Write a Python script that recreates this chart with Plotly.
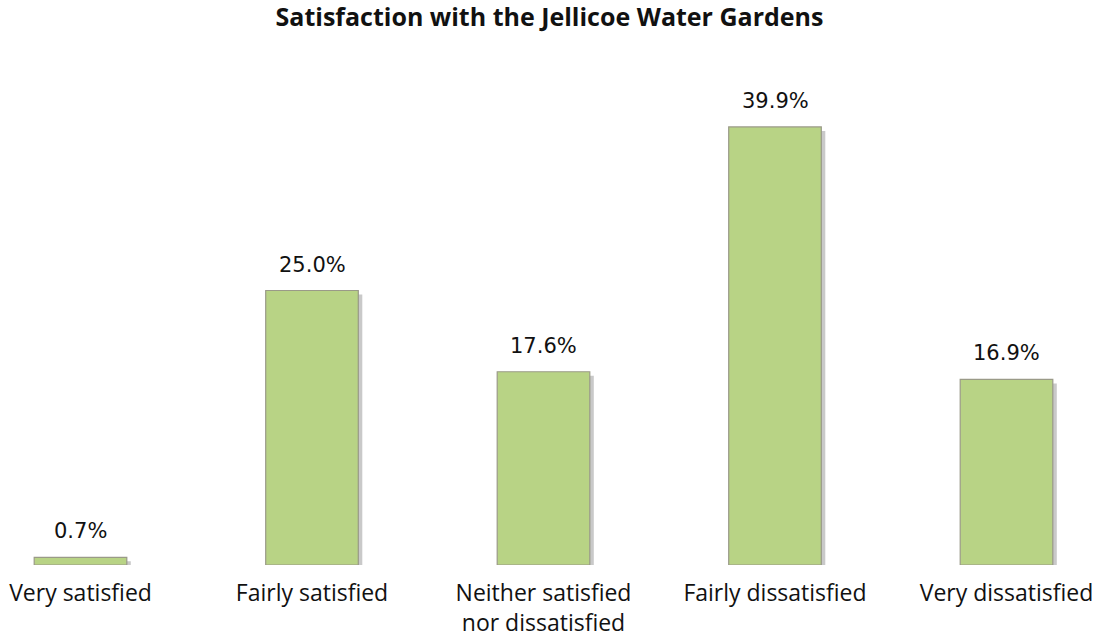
import plotly.graph_objects as go

categories = ["Very satisfied", "Fairly satisfied", "Neither satisfied<br>nor dissatisfied",
              "Fairly dissatisfied", "Very dissatisfied"]
values = [0.7, 25.0, 17.6, 39.9, 16.9]
labels = ["0.7%", "25.0%", "17.6%", "39.9%", "16.9%"]
title = "Satisfaction with the Jellicoe Water Gardens"

W, H = 1099, 638
mt, mb = 60, 73
plot_h = H - mt - mb
px_per_unit = 10.98
ymax = plot_h / px_per_unit
px_per_cat = 231.5
x0 = -80.5 / px_per_cat
x1 = x0 + W / px_per_cat
sx = 4 / px_per_cat
sy = 4 / px_per_unit
bw = 0.4

idx = list(range(len(categories)))

fig = go.Figure()
# shadow (drawn on primary axes, underneath)
fig.add_trace(go.Bar(x=idx, y=values, xaxis="x", yaxis="y", width=bw, offset=-bw / 2 + sx,
                     marker=dict(color="#c9c9c9", line=dict(width=0)),
                     hoverinfo="skip", showlegend=False))
# main bars (overlay axes, on top)
fig.add_trace(go.Bar(x=idx, y=values, xaxis="x2", yaxis="y2", width=bw,
                     marker=dict(color="#b8d385", line=dict(color="#9a9a88", width=1.2)),
                     showlegend=False))
for i, v, t in zip(idx, values, labels):
    fig.add_annotation(x=i, y=v, xref="x2", yref="y2", text=t, showarrow=False,
                       yanchor="bottom", yshift=12,
                       font=dict(family="DejaVu Sans", size=21, color="#111111"))

fig.update_layout(
    width=W, height=H,
    margin=dict(l=0, r=0, t=mt, b=mb, autoexpand=False),
    paper_bgcolor="white", plot_bgcolor="white",
    title=dict(text="<b>" + title + "</b>", x=0.5, xanchor="center", y=1 - 17 / H, yanchor="middle",
               font=dict(family="Open Sans", size=25, color="#111111"), automargin=False),
    xaxis=dict(range=[x0, x1], tickvals=idx, ticktext=categories, showgrid=False, zeroline=False,
               showline=False, ticks="", ticklabelstandoff=12, automargin=False,
               tickfont=dict(family="Open Sans", size=23, color="#111111")),
    xaxis2=dict(range=[x0, x1], overlaying="x", visible=False),
    yaxis=dict(range=[sy, ymax + sy], visible=False),
    yaxis2=dict(range=[0, ymax], overlaying="y", visible=False),
)
fig.write_html("out.html")
